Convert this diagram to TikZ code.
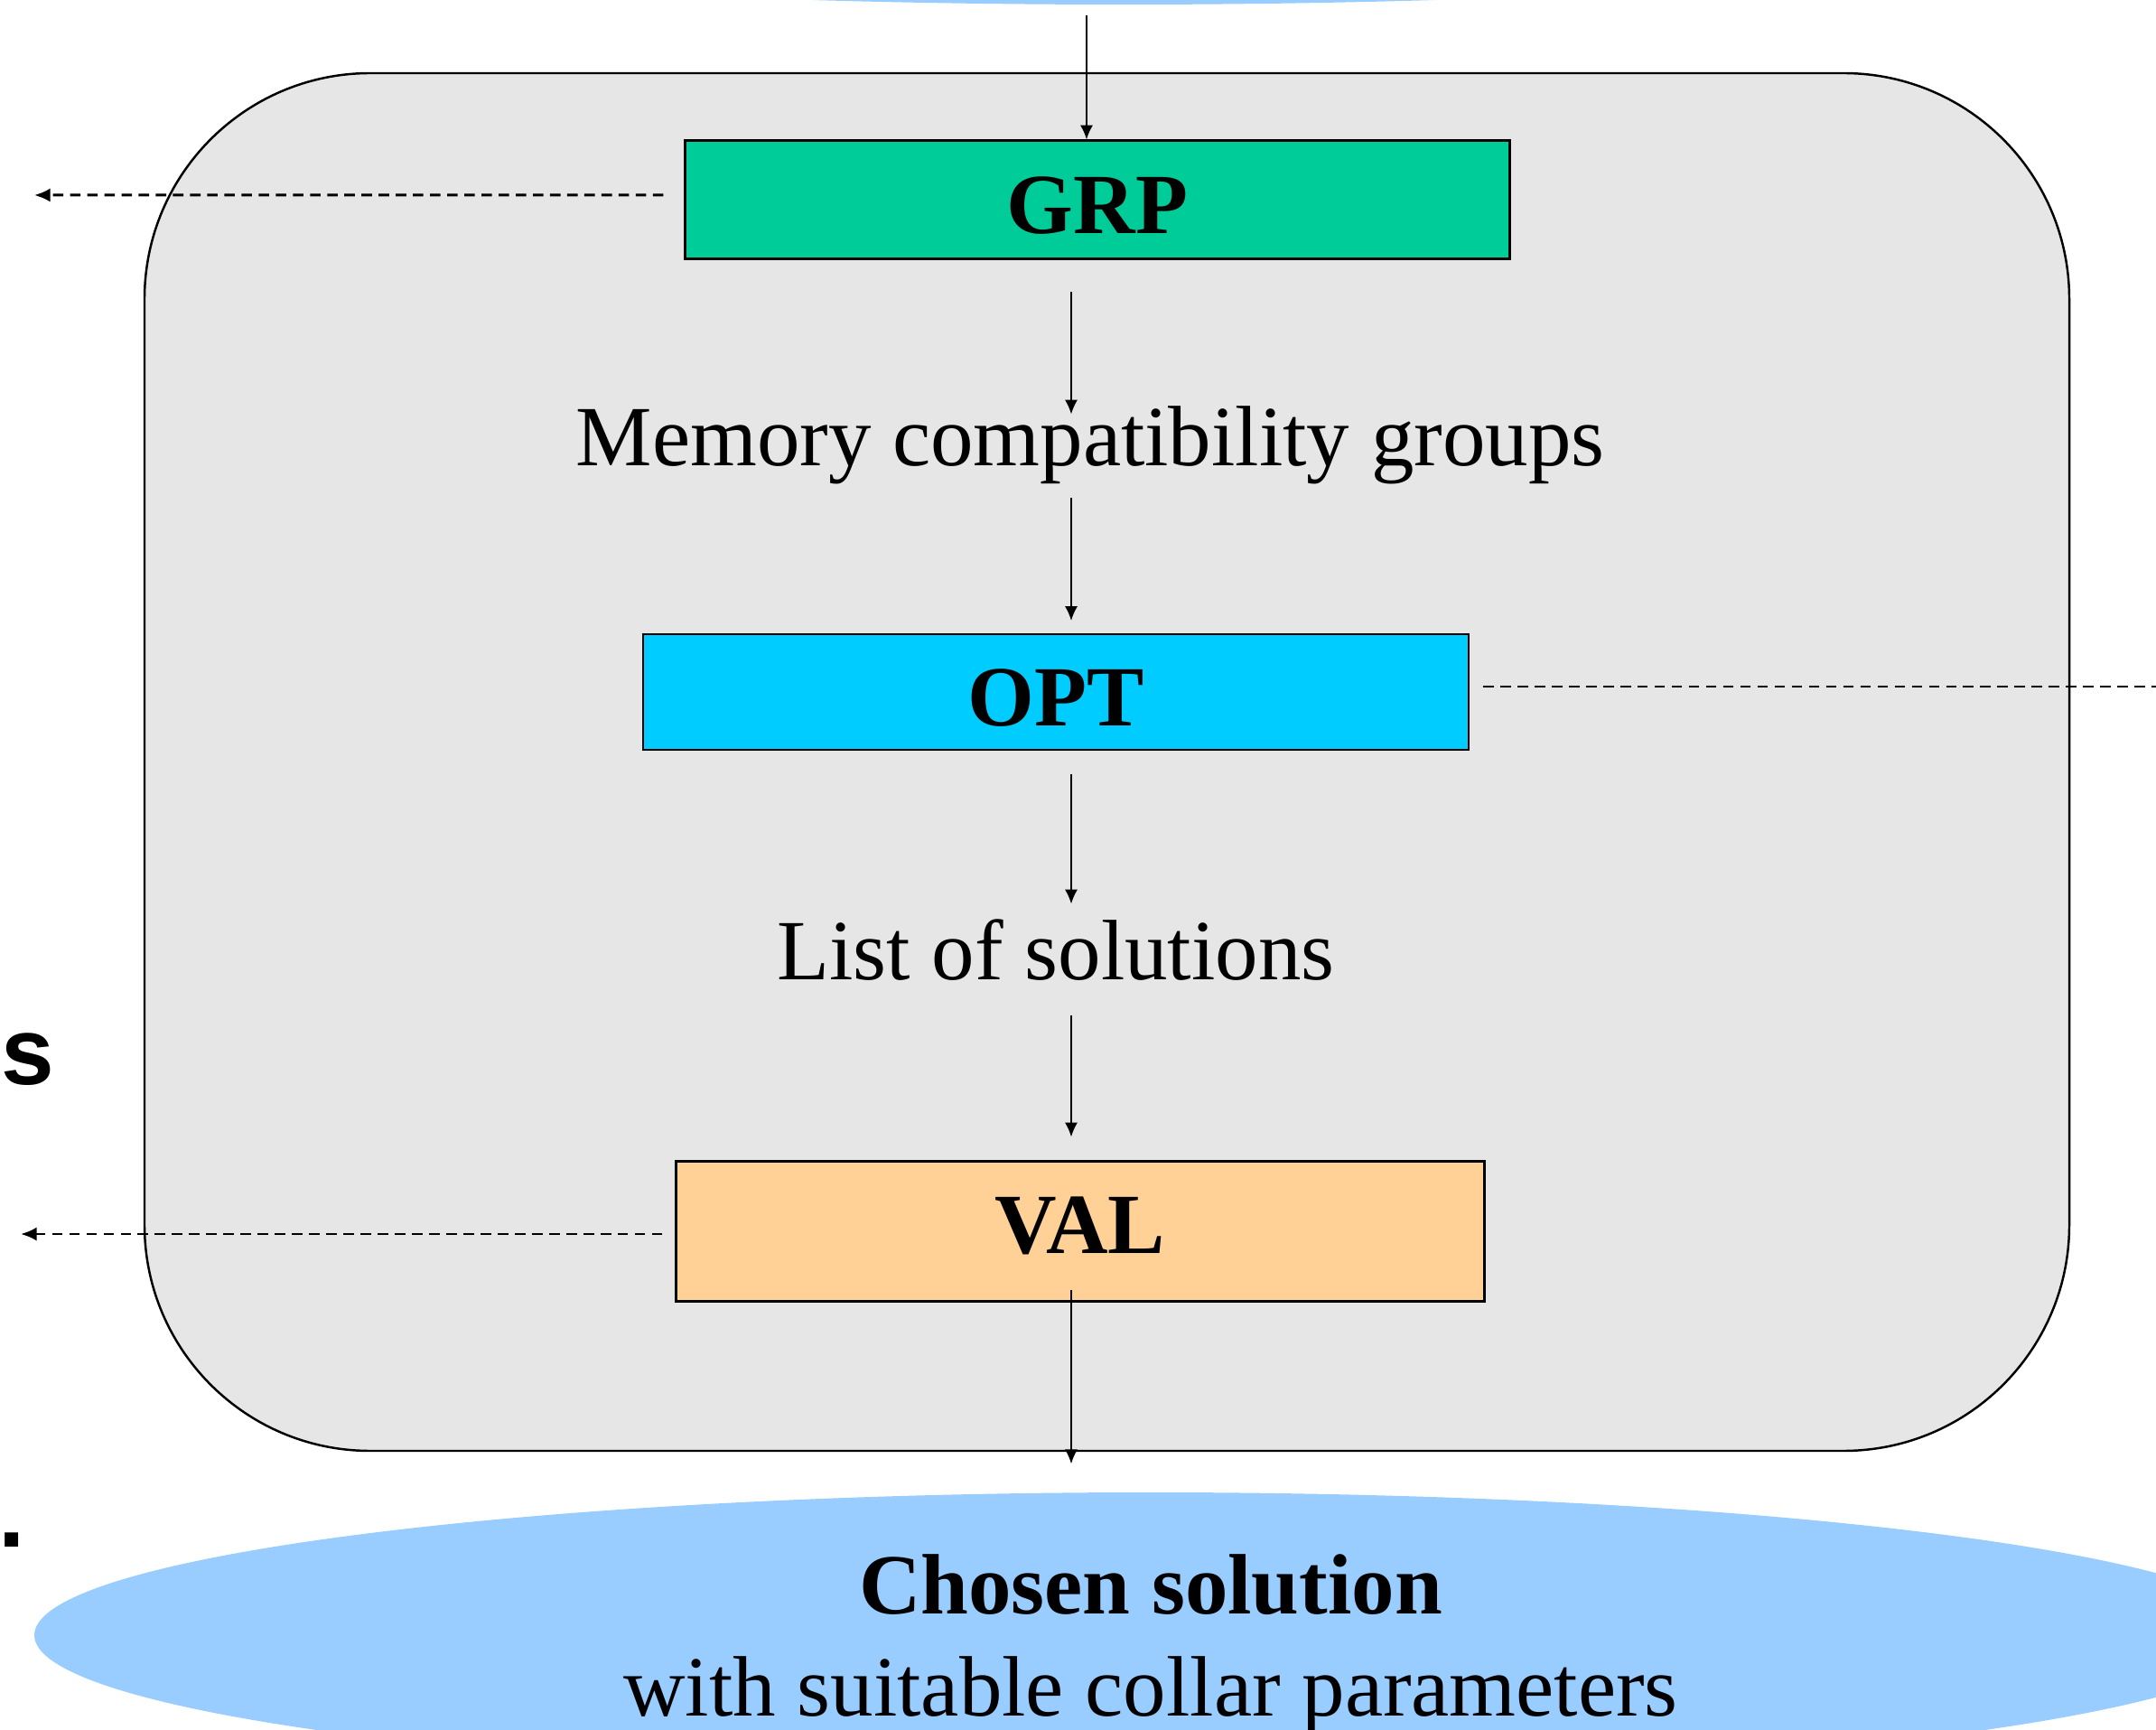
\documentclass[tikz,border=0pt]{standalone}
\usepackage{fontspec}
\setmainfont{Liberation Serif}
\newfontfamily\fragfont{Liberation Sans}
\usetikzlibrary{shapes.geometric,arrows.meta,calc}

\definecolor{grpgreen}{HTML}{00CC99}
\definecolor{optcyan}{HTML}{00CCFF}
\definecolor{valpeach}{HTML}{FFD197}
\definecolor{panelgray}{HTML}{E6E6E6}
\definecolor{termblue}{HTML}{99CCFF}

\begin{document}
\begin{tikzpicture}
    \tikzset{stage/.style = {draw, line width=0.6pt, inner sep=0pt,
        text height=0.75cm, text depth=0pt,
        font=\fontsize{27}{32}\selectfont\bfseries},
      note/.style = {inner sep=0pt, anchor=base,
        font=\fontsize{27}{32}\selectfont},
      link/.style = {line width=0.5pt, -{Latex[length=4.5pt,width=4pt]}},
      leak/.style = {line width=0.85pt, dash pattern=on 3.3pt off 2.1pt},
      term/.style = {ellipse, fill=termblue, inner sep=0pt},
      frag/.style = {inner sep=0pt, anchor=base west,
        font=\fragfont\bfseries\fontsize{30}{36}\selectfont}}
    
    \def\Spine{11.86};
    \def\Width{23.87};
    \def\Height{19.15};
    
    % Fix the page and cut off what runs over it.
    \useasboundingbox (0,0) rectangle (\Width,-\Height);
    \clip (0,0) rectangle (\Width,-\Height);
    
    % Draw the outer panel.
    \draw[fill=panelgray, line width=0.7pt, rounded corners=2.5cm]
      (1.60,-0.81) rectangle (22.91,-16.06);
    
    % Draw the two end ellipses.
    \node[term, minimum width=27.1cm, minimum height=3.04cm] (source) at (12.44,1.47) {};
    \node[term, minimum width=24.72cm, minimum height=3.16cm, align=center,
      text depth=0pt, font=\fontsize{27}{32.2}\selectfont] (sink) at (12.74,-18.10)
      {\textbf{Chosen solution}\\with suitable collar parameters};
    
    % Draw the three stages.
    \node[stage, fill=grpgreen, minimum width=9.13cm, minimum height=1.31cm] (grp) at (12.15,-2.21) {GRP};
    \node[stage, fill=optcyan, minimum width=9.14cm, minimum height=1.28cm] (opt) at (11.69,-7.66) {OPT};
    \node[stage, fill=valpeach, minimum width=8.95cm, minimum height=1.55cm,
      text height=0.65cm, text depth=0.17cm] (val) at (11.96,-13.63) {VAL};
    
    % Draw the labels between the stages.
    \node[note] (groups) at (12.07,-5.16) {Memory compatibility groups};
    \node[note] (solutions) at (11.69,-10.85) {List of solutions};
    
    % Draw the fragments at the left edge.
    \node[frag] (sfrag) at (0.01,-12.00) {s};
    \node[frag] (dotfrag) at (-0.02,-17.12) {.};
    
    % Draw the flow down the middle.
    \coordinate (spine) at (\Spine,0);
    \coordinate (feed) at (12.03,-0.17);
    \draw[link] (feed) -- (feed |- grp.north);
    \draw[link] ($(grp.south -| spine)+(0,-0.35)$) -- ($(groups.north -| spine)+(0,-0.09)$);
    \draw[link] ($(groups.south -| spine)+(0,-0.14)$) -- ($(opt.north -| spine)+(0,0.14)$);
    \draw[link] ($(opt.south -| spine)+(0,-0.26)$) -- ($(solutions.north -| spine)+(0,0.17)$);
    \draw[link] ($(solutions.south -| spine)+(0,-0.37)$) -- ($(val.north -| spine)+(0,0.26)$);
    \draw[link] ($(val.south -| spine)+(0,0.14)$) -- ($(sink.north -| spine)+(0,0.31)$);
    
    % Draw the dashed side exits.
    \coordinate (grpexit) at (0.38,-2.16);
    \coordinate (optexit) at (\Width,-7.60);
    \coordinate (valexit) at (0.23,-13.66);
    \draw[leak, -{Latex[length=5pt,width=4.3pt]}] ($(grp.west)+(-0.23,0.05)$) -- (grpexit);
    \draw[leak] ($(opt.east)+(0.15,0.06)$) -- (optexit);
    \draw[leak, -{Latex[length=5pt,width=4.3pt]}] ($(val.west)+(-0.14,-0.03)$) -- (valexit);
  \end{tikzpicture}
\end{document}
